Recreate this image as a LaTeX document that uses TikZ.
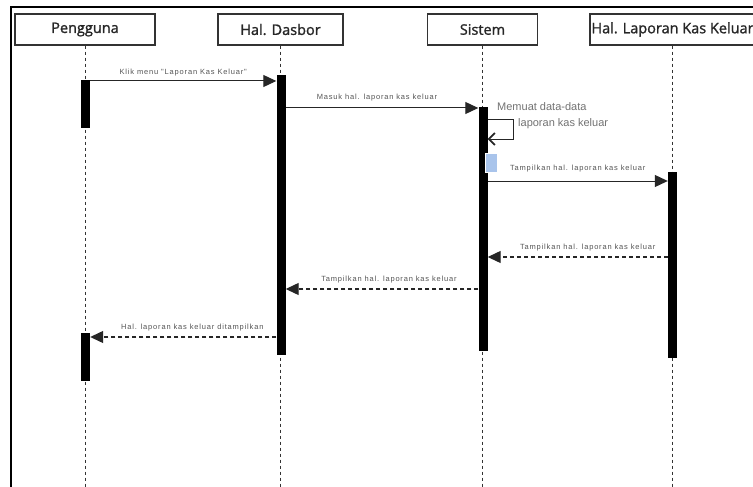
\documentclass[tikz,border=0pt]{standalone}
\usepackage{fontspec}
\setmainfont{Liberation Sans}
\newfontfamily\actorfont[FakeBold=1.3]{Open Sans}
\newfontfamily\msgfont[LetterSpace=11]{Liberation Sans}
\usetikzlibrary{arrows.meta, positioning, calc}

\definecolor{boxline}{HTML}{333333}
\definecolor{msgtext}{HTML}{555555}
\definecolor{noteblue}{HTML}{A9C4EB}

\begin{document}
\begin{tikzpicture}[x=1pt, y=-1pt, >={Triangle[length=13pt,width=12pt]},
  actor/.style={draw=boxline, line width=1.3pt, fill=white, inner sep=0pt,
    font=\actorfont\fontsize{14.5}{17}\selectfont, text=black!85},
  bar/.style={fill=black, draw=none, minimum width=9pt, inner sep=0pt},
  lifeline/.style={draw=black!80, line width=0.9pt, dash pattern=on 3pt off 3pt},
  msg/.style={->, line width=1pt, draw=black!85},
  reply/.style={->, line width=1.2pt, draw=black!85, dash pattern=on 4pt off 3pt},
  msglabel/.style={font=\msgfont\fontsize{7.5}{9}\selectfont, text=msgtext, inner sep=1pt}]

  % Frame
  \useasboundingbox (0,0) rectangle (753,487);
  \clip (0,0) rectangle (753,487);
  \fill[white] (0,0) rectangle (753,487);
  \draw[line width=1.3pt] (11,7) rectangle (770,500);

  % Actors
  \foreach \name/\x/\w/\lbl in {pengguna/85/140/Pengguna, dasbor/280.5/125/Hal. Dasbor,
    sistem/482.5/110/Sistem, laporan/672.5/165/Hal. Laporan Kas Keluar} {
    \node[actor, minimum width=\w, minimum height=31] (\name) at (\x,29.5) {\lbl};
  }

  % Lifelines
  \foreach \name in {pengguna, dasbor, sistem, laporan} {
    \draw[lifeline] (\name.south) -- (\name.south |- 0,487);
  }

  % Activation bars
  \node[bar, minimum height=48] (pg1) at (85.5,104) {};
  \node[bar, minimum height=48] (pg2) at (85.5,357) {};
  \node[bar, minimum height=280] (db) at (281,215) {};
  \node[bar, minimum height=244] (sy) at (483,229) {};
  \node[bar, minimum height=186] (lp) at (672.5,265) {};

  % Messages
  \draw[msg] (pg1.east |- 0,81) -- node[msglabel, above=3pt] {Klik menu "Laporan Kas Keluar"} (db.west |- 0,81);
  \draw[msg] (db.east |- 0,108) -- node[msglabel, above=5pt, xshift=-5pt] {Masuk hal. laporan kas keluar} (sy.west |- 0,108);

  % Self call
  \draw[line width=1pt, draw=black!85, -{Straight Barb[length=6pt,width=12pt,line width=1.8pt]}]
    (sy.east |- 0,119) -| (513,139) -- (sy.east |- 0,139);
  \node[font=\fontsize{11}{16}\selectfont, text=black!55, align=left, inner sep=0pt,
    anchor=north west] (memuat) at (497,102) {Memuat data-data\\\hspace*{21pt}laporan kas keluar};

  \node[fill=noteblue, draw=white, line width=0.6pt, minimum width=12, minimum height=19,
    inner sep=0pt, anchor=north west, xshift=-3pt] (note) at (sy.east |- 0,153) {};

  \draw[msg] (sy.east |- 0,181) -- node[msglabel, above=7pt] {Tampilkan hal. laporan kas keluar} (lp.west |- 0,181);

  % Replies
  \draw[reply] (lp.west |- 0,257) -- node[msglabel, above=4pt, xshift=10pt] {Tampilkan hal. laporan kas keluar} (sy.east |- 0,257);
  \draw[reply] (sy.west |- 0,289) -- node[msglabel, above=4pt, xshift=7pt] {Tampilkan hal. laporan kas keluar} (db.east |- 0,289);
  \draw[reply] (db.west |- 0,337) -- node[msglabel, above=4pt, xshift=9pt] {Hal. laporan kas keluar ditampilkan} (pg2.east |- 0,337);
\end{tikzpicture}
\end{document}
